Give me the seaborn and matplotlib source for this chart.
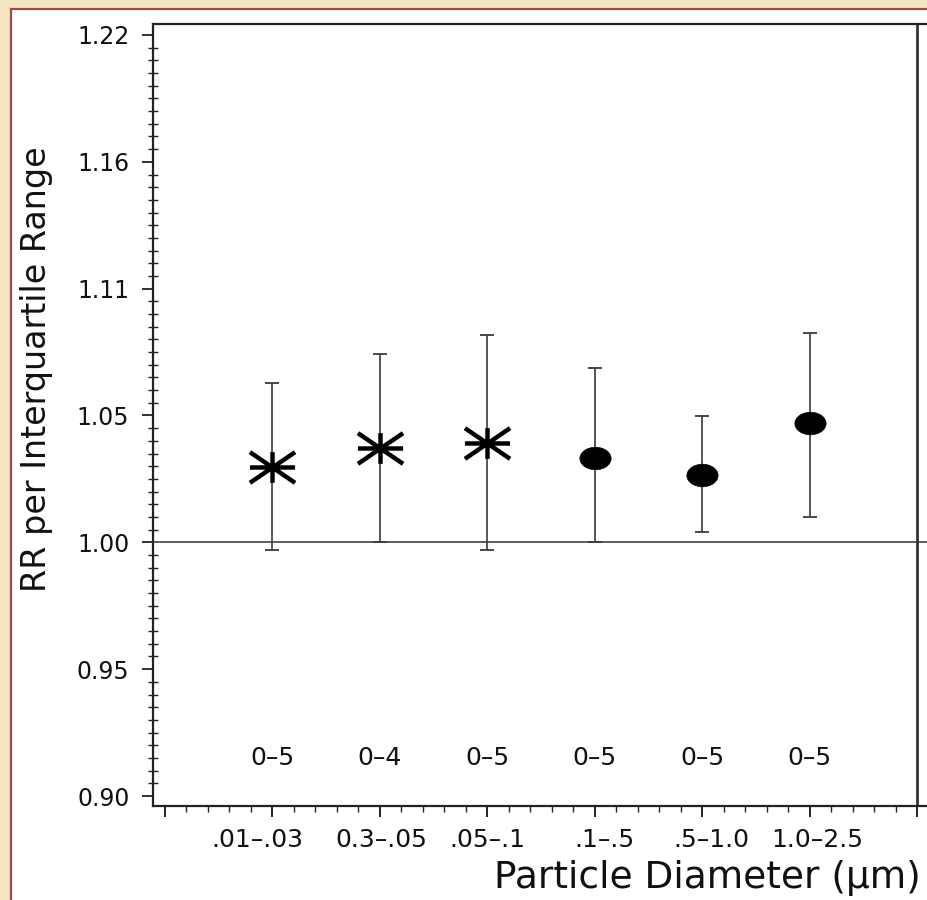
import numpy as np
import pandas as pd
import matplotlib
matplotlib.use("Agg")
import matplotlib.pyplot as plt
import matplotlib.transforms as mtransforms
import seaborn as sns
from matplotlib.path import Path
from matplotlib.patches import Rectangle
from matplotlib.ticker import FixedLocator, FixedFormatter, NullFormatter

# ---------------- data ----------------
categories = [".01\u2013.03", "0.3\u2013.05", ".05\u2013.1", ".1\u2013.5", ".5\u20131.0", "1.0\u20132.5"]
rr = [1.030, 1.038, 1.040, 1.034, 1.027, 1.048]
rr_low = [0.997, 1.000, 0.997, 1.000, 1.004, 1.010]
rr_high = [1.065, 1.077, 1.085, 1.071, 1.051, 1.086]
lag_labels = ["0\u20135", "0\u20134", "0\u20135", "0\u20135", "0\u20135", "0\u20135"]
group = ["star", "star", "star", "dot", "dot", "dot"]
y_tick_steps = [-2, -1, 0, 1, 2, 3, 4]          # ticks every 0.05 on ln(RR)
y_tick_labels = ["0.90", "0.95", "1.00", "1.05", "1.11", "1.16", "1.22"]
xlabel = "Particle Diameter (\u03bcm)"
ylabel = "RR per Interquartile Range"

df = pd.DataFrame({"pos": np.arange(1, len(categories) + 1), "cat": categories,
                   "rr": rr, "lo": rr_low, "hi": rr_high, "grp": group})

# ---------------- style ----------------
sns.set_style("ticks")
plt.rcParams["font.family"] = ["DejaVu Sans"]

W, H = 928, 900
fig = plt.figure(figsize=(W / 100, H / 100), dpi=100)
fig.patch.set_facecolor("#F4E5C2")

# white panel with reddish border (extends past the cropped edges)
fig.patches.append(Rectangle((11.5 / W, -0.05), 1.1, 1 - 8.5 / H + 0.05,
                             transform=fig.transFigure, facecolor="white",
                             edgecolor="#A3473F", linewidth=1.6, zorder=-5))

# axes geometry (px)
left_px, right_px, top_px, bot_px = 153, 965, 24, 806
ax = fig.add_axes([left_px / W, 1 - bot_px / H, (right_px - left_px) / W, (bot_px - top_px) / H])
ax.set_facecolor("none")
ax.set_zorder(2)

# x scale: pos 0 at 165px, pos 7 at 917px
ppu = (917 - 165) / 7.0
ax.set_xlim(-(165 - left_px) / ppu, 7 + (right_px - 917) / ppu)

# y: log scale; ticks equally spaced by 0.05 in ln
step = 0.05
ax.set_yscale("log")
lo_ln = -2 * step - (806 - 796) / 127 * step
hi_ln = 4 * step + (35 - 24) / 127 * step
ax.set_ylim(np.exp(lo_ln), np.exp(hi_ln))
ax.yaxis.set_major_locator(FixedLocator(np.exp(step * np.array(y_tick_steps))))
ax.yaxis.set_major_formatter(FixedFormatter(y_tick_labels))
minor_y = np.exp(np.arange(-2.1, 4.1, 0.1) * step)
ax.yaxis.set_minor_locator(FixedLocator(minor_y))
ax.yaxis.set_minor_formatter(NullFormatter())

ax.xaxis.set_major_locator(FixedLocator(np.arange(0, 8)))
ax.xaxis.set_major_formatter(FixedFormatter([""] + categories + [""]))
ax.xaxis.set_minor_locator(FixedLocator(np.arange(0, 7.6, 0.2)))

# reference lines
ax.axhline(1.0, color="#333333", lw=1.1, zorder=1)
ax.axvline(7, color="#333333", lw=2.0, zorder=1)

# error bars
ax.errorbar(df["pos"], df["rr"], yerr=[df["rr"] - df["lo"], df["hi"] - df["rr"]],
            fmt="none", ecolor="#3a3a3a", elinewidth=1.2, capsize=4.8, capthick=1.3, zorder=2)

# custom markers
a = 0.68
star_path = Path([(-1, 0), (1, 0), (0, -a), (0, a), (-1, -a), (1, a), (-1, a), (1, -a)],
                 [Path.MOVETO, Path.LINETO] * 4)
circ = Path.unit_circle()
ell_path = Path(circ.vertices * np.array([1.0, 0.72]), circ.codes)

sns.scatterplot(data=df[df["grp"] == "star"], x="pos", y="rr", marker=star_path, s=32.5 ** 2,
                color="black", edgecolor="black", linewidth=3.2, ax=ax, zorder=3, legend=False)
sns.scatterplot(data=df[df["grp"] == "dot"], x="pos", y="rr", marker=ell_path, s=22.5 ** 2,
                color="black", edgecolor="black", linewidth=0.5, ax=ax, zorder=3, legend=False)

# lag labels
for p, t in zip(df["pos"], lag_labels):
    ax.text(p, np.exp(-0.0878), t, ha="center", va="baseline", fontsize=18, color="#111111")

# spines & ticks
for s in ["left", "bottom", "top"]:
    ax.spines[s].set_linewidth(1.6)
    ax.spines[s].set_color("#222222")
ax.spines["right"].set_visible(False)
ax.tick_params(axis="y", which="major", direction="out", length=8, width=1.3, pad=9,
               labelsize=17, colors="#222222", labelcolor="#111111")
ax.tick_params(axis="y", which="minor", direction="inout", length=7, width=1.0, colors="#222222")
ax.tick_params(axis="x", which="major", direction="out", length=8, width=1.4, pad=8,
               labelsize=18, colors="#222222", labelcolor="#111111")
ax.tick_params(axis="x", which="minor", direction="out", length=4.5, width=1.0, colors="#222222")
ax.set_xlabel("")
ax.set_ylabel("")

# slight hand-placed horizontal offsets of the category labels (px)
label_shift_px = [0, -15, 1, 0, 10, 9, 8, 0]
for lab, dx in zip(ax.xaxis.get_majorticklabels(), label_shift_px):
    lab.set_transform(lab.get_transform() +
                      mtransforms.ScaledTranslation(dx / 100, 0, fig.dpi_scale_trans))

# axis titles
fig.text(494 / W, 1 - 878 / H, xlabel, ha="left", va="center", fontsize=27, color="#111111")
fig.text(37 / W, 1 - 369 / H, ylabel, ha="center", va="center", rotation=90, fontsize=24, color="#111111")

fig.savefig("out.png", dpi=100, facecolor=fig.get_facecolor())
